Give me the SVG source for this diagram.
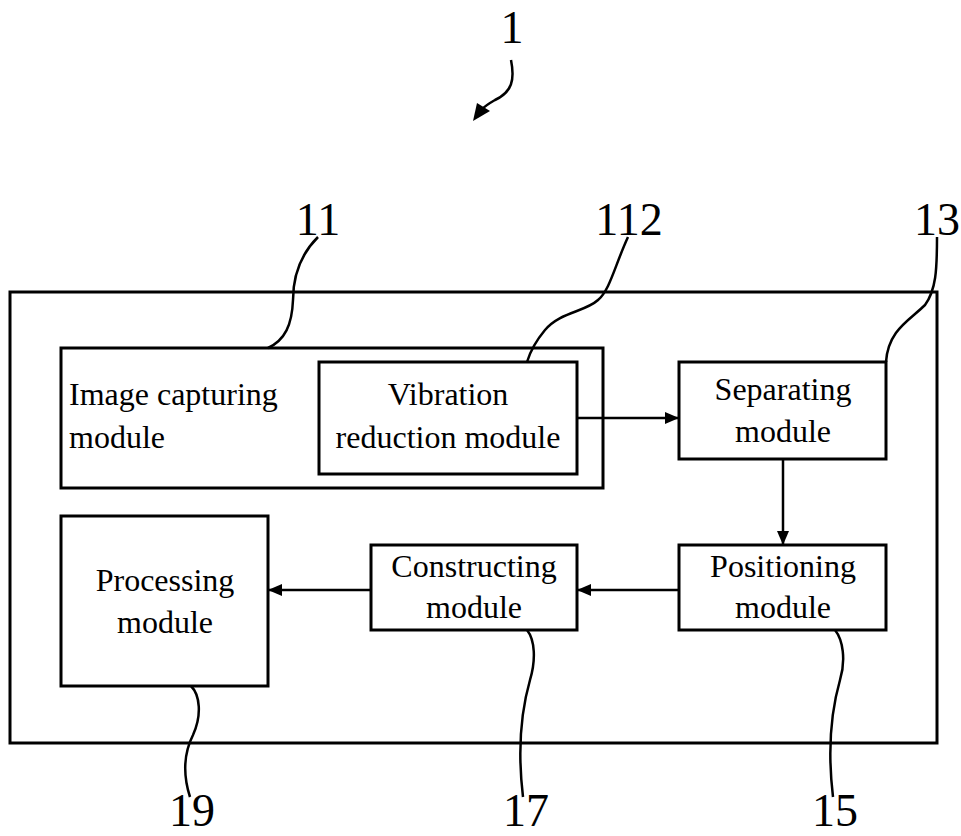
<svg xmlns="http://www.w3.org/2000/svg" width="961" height="836" viewBox="0 0 961 836">
<defs>
<style>
.box{fill:#fff;stroke:#000;stroke-width:3}
.t{font-family:"Liberation Serif","Times New Roman",serif;font-size:32px;fill:#000}
.n{font-family:"Liberation Serif","Times New Roman",serif;font-size:46px;fill:#000;text-anchor:middle}
.c{text-anchor:middle}
.ln{fill:none;stroke:#000;stroke-width:2.5}
.lead{fill:none;stroke:#000;stroke-width:2.5}
</style>
<marker id="ah" markerWidth="14" markerHeight="12" refX="13" refY="6" orient="auto" markerUnits="userSpaceOnUse">
<path d="M0,0 L14,6 L0,12 Z" fill="#000"/>
</marker>
</defs>
<rect width="961" height="836" fill="#fff"/>
<g id="system">
<rect class="box" x="10" y="292" width="927" height="451"/>
</g>
<g id="image-capturing">
<rect class="box" x="61" y="348" width="542" height="140"/>
<text class="t" x="69" y="405">Image capturing</text>
<text class="t" x="69" y="448">module</text>
</g>
<g id="vibration-reduction">
<rect class="box" x="319" y="362" width="258" height="112"/>
<text class="t c" x="448" y="405">Vibration</text>
<text class="t c" x="448" y="448">reduction module</text>
</g>
<g id="separating">
<rect class="box" x="679" y="362" width="207" height="97"/>
<text class="t c" x="783" y="400">Separating</text>
<text class="t c" x="783" y="442">module</text>
</g>
<g id="positioning">
<rect class="box" x="679" y="545" width="207" height="85"/>
<text class="t c" x="783" y="577">Positioning</text>
<text class="t c" x="783" y="618">module</text>
</g>
<g id="constructing">
<rect class="box" x="371" y="545" width="206" height="85"/>
<text class="t c" x="474" y="577">Constructing</text>
<text class="t c" x="474" y="618">module</text>
</g>
<g id="processing">
<rect class="box" x="61" y="516" width="207" height="170"/>
<text class="t c" x="165" y="591">Processing</text>
<text class="t c" x="165" y="633">module</text>
</g>
<g id="connectors">
<line class="ln" x1="578" y1="418" x2="678" y2="418" marker-end="url(#ah)"/>
<line class="ln" x1="783" y1="460" x2="783" y2="544" marker-end="url(#ah)"/>
<line class="ln" x1="678" y1="590" x2="578" y2="590" marker-end="url(#ah)"/>
<line class="ln" x1="370" y1="590" x2="269" y2="590" marker-end="url(#ah)"/>
</g>
<g id="labels">
<text class="n" x="512" y="43">1</text>
<path class="lead" d="M511,60 C515,80 512,92 495,100 C488,104 484,107 481,110"/>
<path d="M473,121 L477,103 L490,111 Z" fill="#000"/>
<text class="n" x="318" y="235">11</text>
<path class="lead" d="M318,237 C300,255 293,275 293,300 C292,325 285,340 268,348"/>
<text class="n" x="629" y="235">112</text>
<path class="lead" d="M628,237 C615,265 610,290 598,300 C585,312 560,312 545,330 C535,342 530,352 527,362"/>
<text class="n" x="937" y="235">13</text>
<path class="lead" d="M937,237 C937,270 936,290 925,305 C910,320 888,330 886,362"/>
<path class="lead" d="M191,686 C200,695 202,715 193,735 C183,755 183,775 190,797"/>
<text class="n" x="192" y="826">19</text>
<path class="lead" d="M527,630 C535,640 536,660 530,680 C520,715 518,755 523,797"/>
<text class="n" x="526" y="826">17</text>
<path class="lead" d="M835,630 C843,640 846,660 840,680 C830,715 828,755 833,797"/>
<text class="n" x="835" y="826">15</text>
</g>
</svg>
